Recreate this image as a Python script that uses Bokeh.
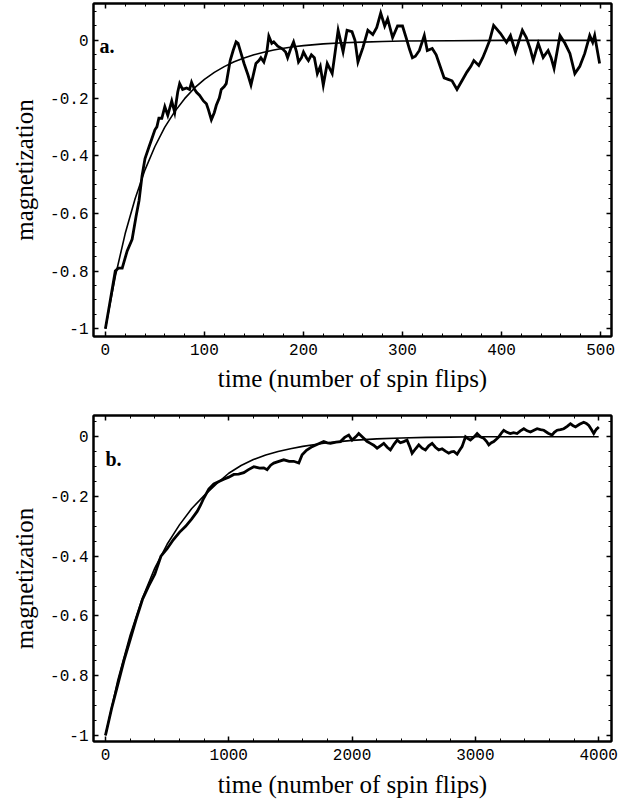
from bokeh.plotting import figure
from bokeh.models import Range1d, LinearAxis, SingleIntervalTicker, CustomJSTickFormatter, Label
from bokeh.layouts import column
from bokeh.embed import file_html
from bokeh.resources import INLINE

# ---------------- panel a data ----------------
a_walk_t = [0, 5, 10, 13, 17, 22, 27, 31, 34, 37, 40, 44, 47, 50, 52, 54, 57, 60, 63, 67,
            70, 73, 75, 78, 82, 85, 87, 90, 92, 95, 99, 102, 104, 107, 110, 112, 115, 117, 120, 122,
            126, 129, 132, 134, 137, 140, 144, 147, 150, 152, 155, 157, 160, 163, 165, 168, 170, 174, 179, 182,
            184, 187, 190, 193, 195, 198, 200, 203, 205, 208, 211, 214, 217, 220, 224, 229, 232, 235, 240, 244,
            249, 252, 255, 260, 265, 270, 274, 278, 282, 285, 290, 295, 300, 304, 307, 310, 313, 317, 322, 325,
            330, 334, 337, 342, 346, 350, 355, 360, 365, 369, 372, 377, 381, 384, 388, 392, 399, 405, 409, 414,
            421, 425, 429, 432, 437, 442, 447, 450, 453, 459, 464, 469, 474, 479, 484, 489, 492, 494, 499]
a_walk_m = [-1.0, -0.90, -0.80, -0.79, -0.79, -0.73, -0.69, -0.61, -0.555, -0.47, -0.41, -0.37, -0.34, -0.31, -0.30, -0.27, -0.27, -0.23, -0.26, -0.21,
            -0.25, -0.18, -0.15, -0.17, -0.165, -0.17, -0.145, -0.17, -0.18, -0.19, -0.21, -0.22, -0.24, -0.275, -0.25, -0.225, -0.20, -0.17, -0.16, -0.15,
            -0.07, -0.035, -0.005, -0.01, -0.045, -0.08, -0.12, -0.155, -0.11, -0.08, -0.07, -0.06, -0.075, -0.04, 0.015, -0.01, -0.005, -0.02, -0.03, -0.04,
            -0.06, -0.03, -0.005, -0.04, -0.075, -0.06, -0.04, -0.06, -0.07, -0.05, -0.06, -0.115, -0.09, -0.155, -0.08, -0.115, -0.04, 0.035, -0.04, 0.035,
            0.03, 0.0, -0.075, -0.025, 0.035, 0.02, 0.045, 0.095, 0.05, 0.075, 0.01, 0.05, 0.05, 0.005, -0.03, -0.06, -0.055, -0.035, 0.017, -0.035,
            -0.028, -0.05, -0.08, -0.13, -0.135, -0.14, -0.17, -0.14, -0.11, -0.09, -0.07, -0.087, -0.06, -0.035, 0.0, 0.052, 0.024, -0.007, 0.017, -0.04,
            0.035, 0.01, -0.03, -0.069, -0.01, -0.059, -0.035, -0.06, -0.097, 0.017, -0.01, -0.045, -0.115, -0.09, -0.045, 0.017, -0.007, 0.017, -0.08]

a_fit_t = [0, 10, 20, 30, 40, 50, 60, 70, 80, 90, 100, 110, 120, 130, 140, 150, 160, 170, 180, 190,
           200, 220, 240, 260, 280, 300, 350, 400, 450, 500]
a_fit_m = [-1.0, -0.819, -0.670, -0.549, -0.449, -0.368, -0.301, -0.247, -0.202, -0.165, -0.135, -0.111, -0.091, -0.074, -0.061, -0.050, -0.041, -0.033, -0.027, -0.022,
           -0.018, -0.012, -0.008, -0.006, -0.004, -0.002, -0.001, 0.0, 0.0, 0.0]

# ---------------- panel b data ----------------
b_walk_t = [0, 50, 100, 150, 200, 250, 300, 350, 400, 450, 500, 550, 600, 650, 700, 744, 770, 798, 838, 879,
            920, 960, 1000, 1041, 1080, 1122, 1160, 1203, 1250, 1284, 1311, 1340, 1365, 1400, 1446, 1490, 1527, 1568, 1595, 1630,
            1676, 1720, 1770, 1800, 1825, 1870, 1906, 1940, 1973, 2000, 2030, 2054, 2095, 2120, 2149, 2175, 2203, 2230, 2257, 2285,
            2311, 2340, 2366, 2392, 2419, 2446, 2470, 2487, 2515, 2541, 2568, 2595, 2622, 2649, 2676, 2703, 2730, 2757, 2784, 2805,
            2825, 2852, 2872, 2892, 2920, 2940, 2960, 2990, 3014, 3040, 3068, 3090, 3109, 3130, 3149, 3170, 3190, 3210, 3230, 3257,
            3284, 3310, 3338, 3365, 3393, 3420, 3447, 3475, 3501, 3528, 3555, 3590, 3622, 3640, 3663, 3690, 3717, 3745, 3771, 3790,
            3812, 3845, 3879, 3900, 3920, 3940, 3960, 3980, 4001]
b_walk_m = [-1.0, -0.91, -0.83, -0.75, -0.68, -0.61, -0.545, -0.50, -0.46, -0.40, -0.375, -0.345, -0.32, -0.30, -0.275, -0.25, -0.23, -0.205, -0.175, -0.158,
            -0.150, -0.142, -0.135, -0.126, -0.125, -0.12, -0.11, -0.10, -0.105, -0.104, -0.11, -0.095, -0.088, -0.083, -0.077, -0.082, -0.082, -0.088, -0.06, -0.045,
            -0.033, -0.025, -0.016, -0.020, -0.022, -0.018, -0.016, -0.002, 0.006, -0.011, 0.0, 0.011, -0.005, -0.015, -0.022, -0.028, -0.038, -0.03, -0.022, -0.035,
            -0.044, -0.025, -0.011, -0.02, -0.016, -0.011, -0.035, -0.055, -0.04, -0.027, -0.038, -0.044, -0.03, -0.022, -0.035, -0.044, -0.04, -0.048, -0.055, -0.05,
            -0.049, -0.058, -0.045, -0.033, 0.0, -0.006, -0.011, 0.0, 0.011, 0.0, -0.005, -0.015, -0.027, -0.02, -0.016, -0.008, 0.0, 0.012, 0.022, 0.015,
            0.011, 0.014, 0.011, 0.02, 0.027, 0.02, 0.016, 0.022, 0.027, 0.024, 0.022, 0.012, 0.006, 0.015, 0.022, 0.024, 0.027, 0.035, 0.044, 0.038,
            0.033, 0.042, 0.049, 0.045, 0.038, 0.025, 0.011, 0.025, 0.033]

b_fit_t = [0, 100, 200, 300, 400, 500, 600, 700, 800, 900, 1000, 1100, 1200, 1300, 1400, 1500, 1600, 1700, 1800, 1900,
           2000, 2200, 2400, 2600, 2800, 3000, 3500, 4000]
b_fit_m = [-1.0, -0.815, -0.665, -0.54, -0.44, -0.36, -0.295, -0.24, -0.197, -0.158, -0.122, -0.096, -0.076, -0.061, -0.049, -0.04, -0.032, -0.026, -0.02, -0.016,
           -0.012, -0.007, -0.004, -0.002, -0.001, 0.0, 0.0, 0.0]

x_label = "time (number of spin flips)"
y_label = "magnetization"

TICK_FONT = "Liberation Mono"
SERIF = "Liberation Serif"

y_fmt = CustomJSTickFormatter(code="""
const r = Math.round(tick*10)/10;
if (Math.abs(r - Math.round(r)) < 1e-9) { return Math.round(r).toFixed(0); }
return r.toFixed(1);
""")
blank_fmt = CustomJSTickFormatter(code="return '';")


def style_axis(ax, labels):
    ax.axis_line_color = "black"
    ax.axis_line_width = 2
    ax.major_tick_in = 5
    ax.major_tick_out = 0
    ax.minor_tick_in = 3
    ax.minor_tick_out = 0
    ax.major_tick_line_color = "black"
    ax.minor_tick_line_color = "black"
    ax.major_tick_line_width = 1.5
    ax.minor_tick_line_width = 1
    if labels:
        ax.major_label_text_font = TICK_FONT
        ax.major_label_text_font_size = "16px"
        ax.major_label_text_color = "black"
        ax.axis_label_text_font = SERIF
        ax.axis_label_text_font_size = "25px"
        ax.axis_label_text_font_style = "normal"
        ax.axis_label_text_color = "black"
    else:
        ax.formatter = blank_fmt
        ax.major_label_text_font_size = "1px"
        ax.major_label_standoff = 0
        ax.axis_label = None


def make_panel(xr, yr, xint, xminor, width, height, bl, br, bt, bb, walk_t, walk_m, fit_t, fit_m,
               tag, tag_x, tag_y, xlab_standoff):
    p = figure(width=width, height=height, output_backend="svg", toolbar_location=None,
               x_range=Range1d(*xr), y_range=Range1d(*yr),
               min_border_left=bl, min_border_right=br, min_border_top=bt, min_border_bottom=bb,
               background_fill_color="white", border_fill_color="white")
    p.xgrid.visible = False
    p.ygrid.visible = False
    p.outline_line_color = "black"
    p.outline_line_width = 2

    p.xaxis.ticker = SingleIntervalTicker(interval=xint, num_minor_ticks=xminor)
    p.yaxis.ticker = SingleIntervalTicker(interval=0.2, num_minor_ticks=4)
    p.yaxis.formatter = y_fmt
    p.xaxis.axis_label = x_label
    p.yaxis.axis_label = y_label
    for ax in p.xaxis:
        style_axis(ax, True)
        ax.major_label_standoff = 7
        ax.axis_label_standoff = xlab_standoff
    for ax in p.yaxis:
        style_axis(ax, True)
        ax.major_label_standoff = 5
        ax.axis_label_standoff = 9

    top_ax = LinearAxis(ticker=SingleIntervalTicker(interval=xint, num_minor_ticks=xminor))
    style_axis(top_ax, False)
    p.add_layout(top_ax, "above")
    right_ax = LinearAxis(ticker=SingleIntervalTicker(interval=0.2, num_minor_ticks=4))
    style_axis(right_ax, False)
    p.add_layout(right_ax, "right")

    p.line(fit_t, fit_m, line_color="black", line_width=1.6)
    p.line(walk_t, walk_m, line_color="black", line_width=2.8, line_join="miter")

    p.add_layout(Label(x=tag_x, y=tag_y, text=tag, text_font=SERIF, text_font_size="20px",
                       text_font_style="bold", text_color="black", text_baseline="alphabetic"))
    return p


p1 = make_panel((-12, 511), (-1.027, 0.128), 100, 5, 625, 400, 91, 12, 3, 64,
                a_walk_t, a_walk_m, a_fit_t, a_fit_m, "a.", -6, -0.018, 7)
p2 = make_panel((-97, 4104), (-1.0207, 0.0714), 1000, 5, 625, 400, 93, 14, 15, 53,
                b_walk_t, b_walk_m, b_fit_t, b_fit_m, "b.", 0, -0.074, 8)

layout = column(p1, p2, spacing=0)
open("out.html", "w").write(file_html(layout, INLINE))
